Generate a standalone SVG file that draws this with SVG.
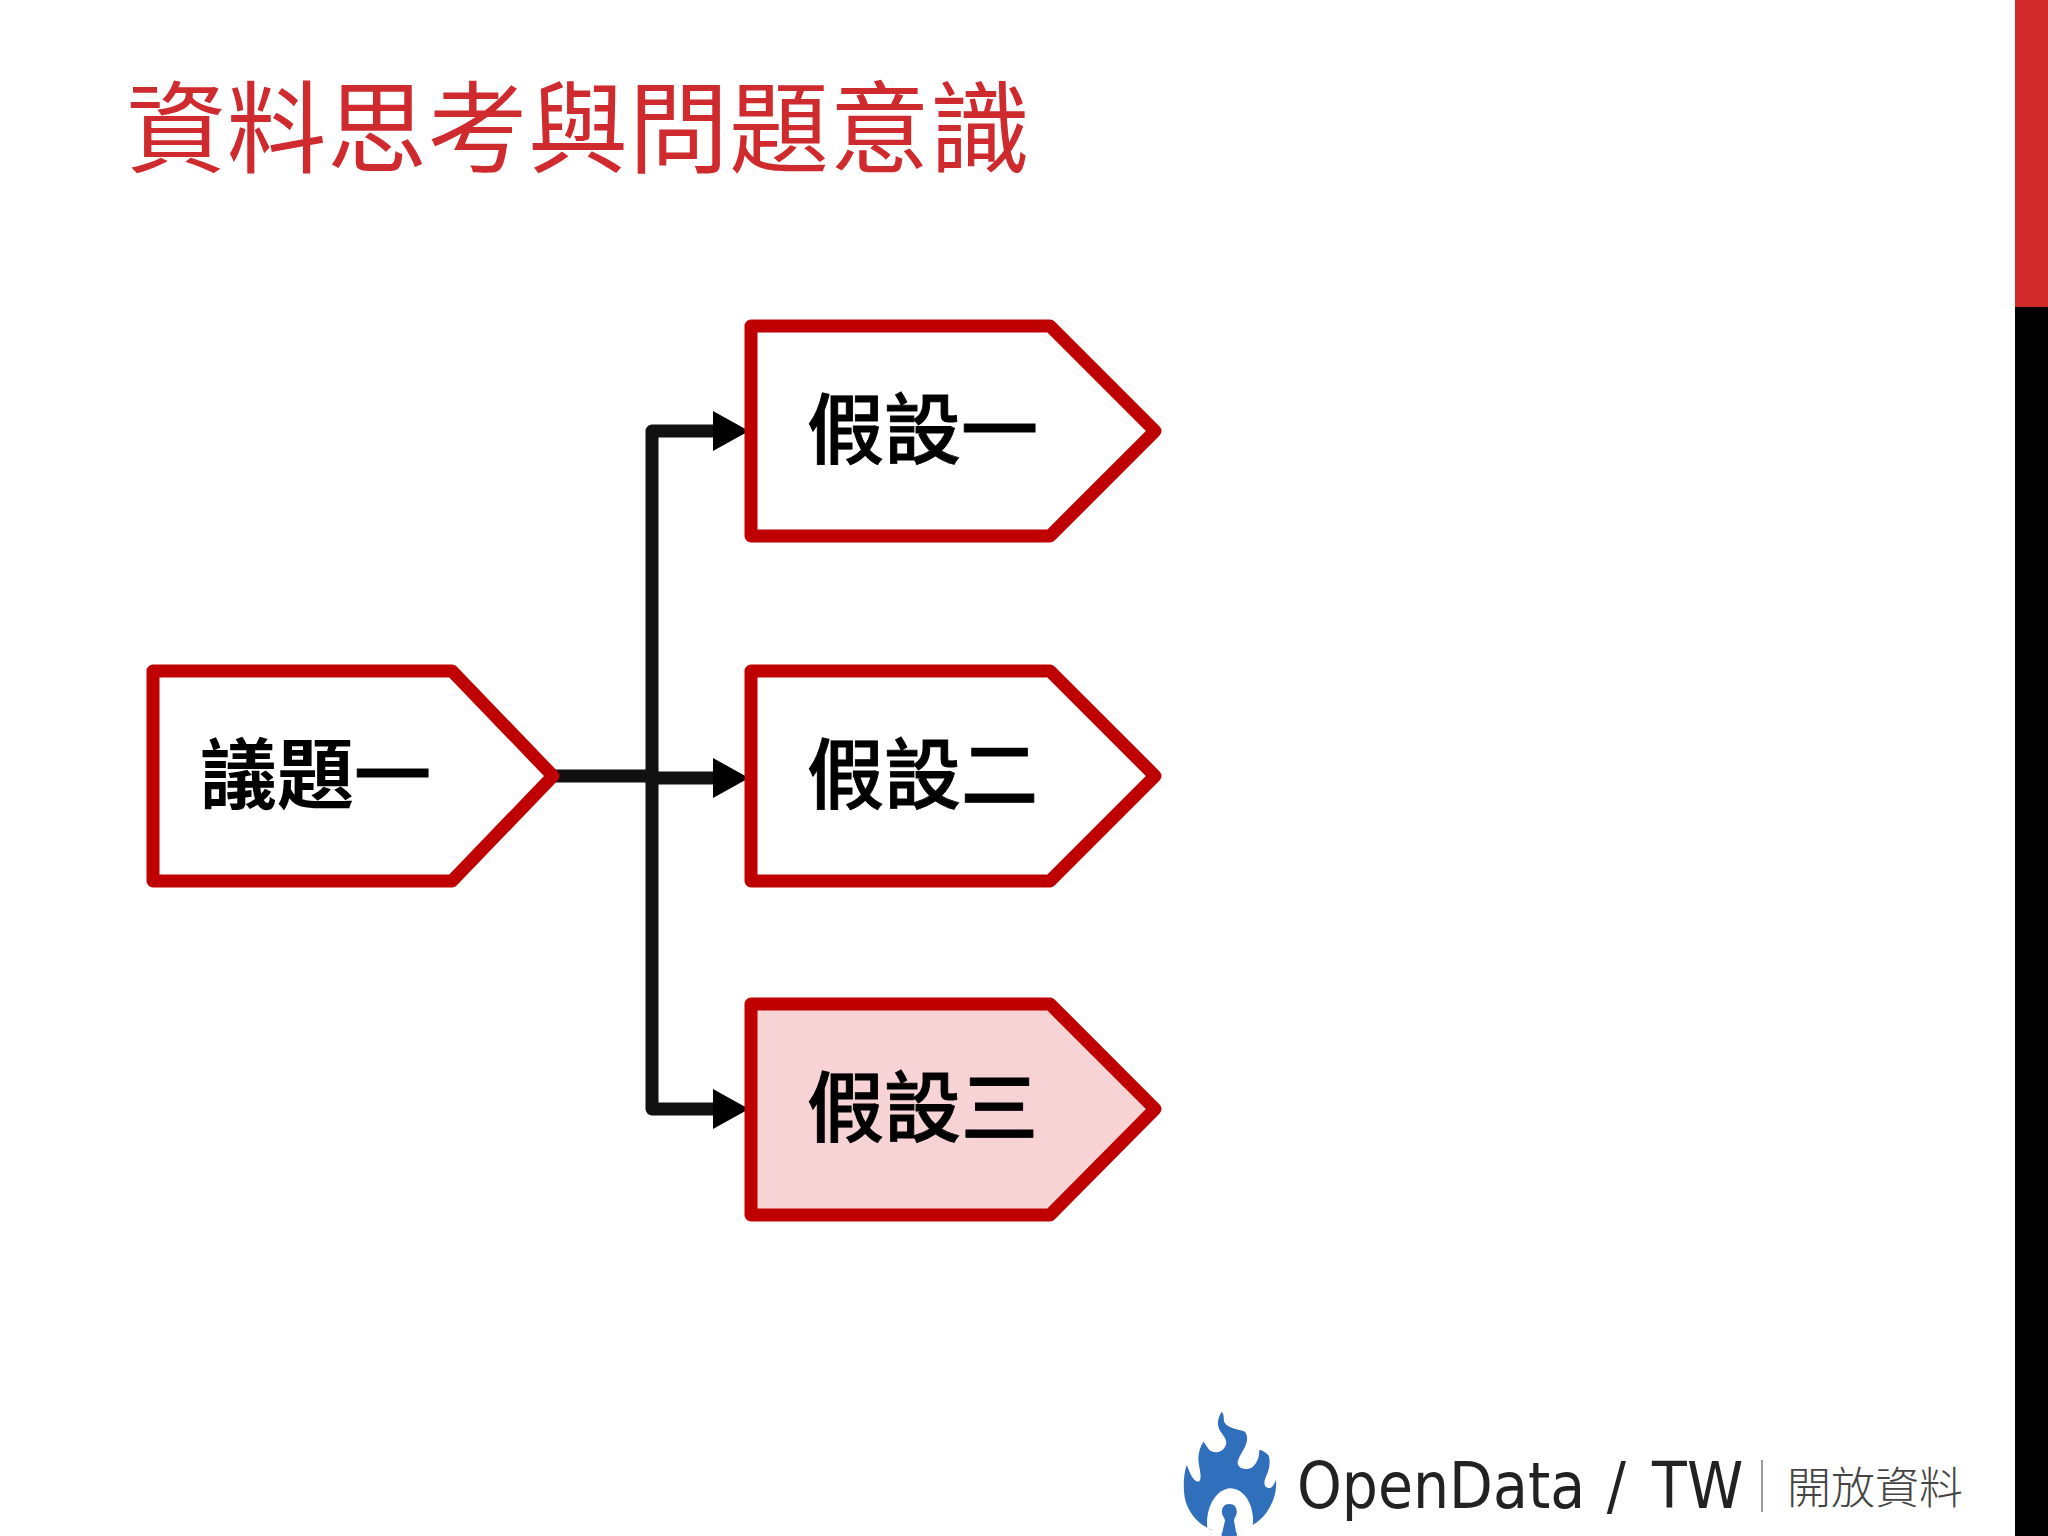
<svg xmlns="http://www.w3.org/2000/svg" width="2048" height="1536" viewBox="0 0 2048 1536">
<style>
.box{fill:#fff;stroke:#bf0000;stroke-width:13;stroke-linejoin:round}
.lbl{font-family:"Noto Sans CJK TC","Noto Sans CJK SC",sans-serif;font-size:77px;font-weight:500;fill:#000;stroke:#000;stroke-width:.9}
.b{font-weight:700;stroke:none}
.wire{fill:none;stroke:#111;stroke-width:13;stroke-linejoin:round}
</style>
<rect width="2048" height="1536" fill="#fff"/>
<rect id="bar-red" x="2015" y="0" width="33" height="307" fill="#d32a2e"/>
<rect id="bar-black" x="2015" y="307" width="33" height="1229" fill="#000"/>
<text id="title" x="126" y="165" font-family="'Noto Sans CJK TC','Noto Sans CJK SC',sans-serif" font-size="100" font-weight="400" fill="#cf2a2e" textLength="904">資料思考與問題意識</text>
<g id="connectors">
<path class="wire" d="M555 776H652V431H717"/>
<path class="wire" d="M652 776V1109H717"/>
<path class="wire" d="M652 778H717"/>
<path d="M713 411L749 431L713 451zM713 758L749 778L713 798zM713 1089L749 1109L713 1129z" fill="#000"/>
</g>
<g id="issue"><path class="box" d="M153 671H452L553 776L452 881H153z"/><text class="lbl" x="200" y="803"><tspan class="b">議題</tspan>一</text></g>
<g id="h1"><path class="box" d="M751 326H1050L1155 431L1050 536H751z"/><text class="lbl" x="807" y="458">假設一</text></g>
<g id="h2"><path class="box" d="M751 671H1050L1155 776L1050 881H751z"/><text class="lbl" x="807" y="803">假設二</text></g>
<g id="h3"><path class="box" style="fill:#f8d3d6" d="M751 1004H1050L1155 1109L1050 1215H751z"/><text class="lbl" x="807" y="1136">假設三</text></g>
<g id="logo">
<g transform="translate(1170 1400) scale(.3333)">
<path d="M155 35C140 60 140 80 155 100C170 118 172 130 165 140C155 160 130 160 118 150C110 140 105 130 100 125C85 150 82 175 88 200C92 225 95 240 85 245C70 245 60 220 50 195C40 225 38 270 47 305C60 345 90 375 125 390H155V408H200V395C240 385 280 360 300 320C315 295 320 265 318 240C312 255 305 265 297 265C280 262 280 245 290 225C302 200 300 175 295 165C285 155 272 148 268 150C268 170 262 190 245 203C225 212 205 205 203 190C203 175 215 160 225 140C235 120 232 105 225 95C205 88 175 85 165 70C158 58 165 45 155 35z" fill="#2f6fbc"/>
<path d="M112 385C105 320 140 268 180 265C225 265 255 320 248 378L200 398H155z" fill="#fff"/>
<path d="M178 312C195 312 202 325 200 340C198 350 192 355 192 362L200 405H155L165 362C165 355 158 350 156 340C154 325 162 312 178 312z" fill="#2f6fbc"/>
</g>
<text transform="translate(1297 1508) scale(.89 1)" font-family="'DejaVu Sans',sans-serif" font-size="64" fill="#222">OpenData <tspan x="348">/</tspan> <tspan x="399">TW</tspan></text>
<rect x="1761" y="1460" width="2" height="52" fill="#999"/>
<text x="1787" y="1504" font-family="'Noto Sans CJK TC',sans-serif" font-size="44" font-weight="300" fill="#444" textLength="176">開放資料</text>
</g>
</svg>
